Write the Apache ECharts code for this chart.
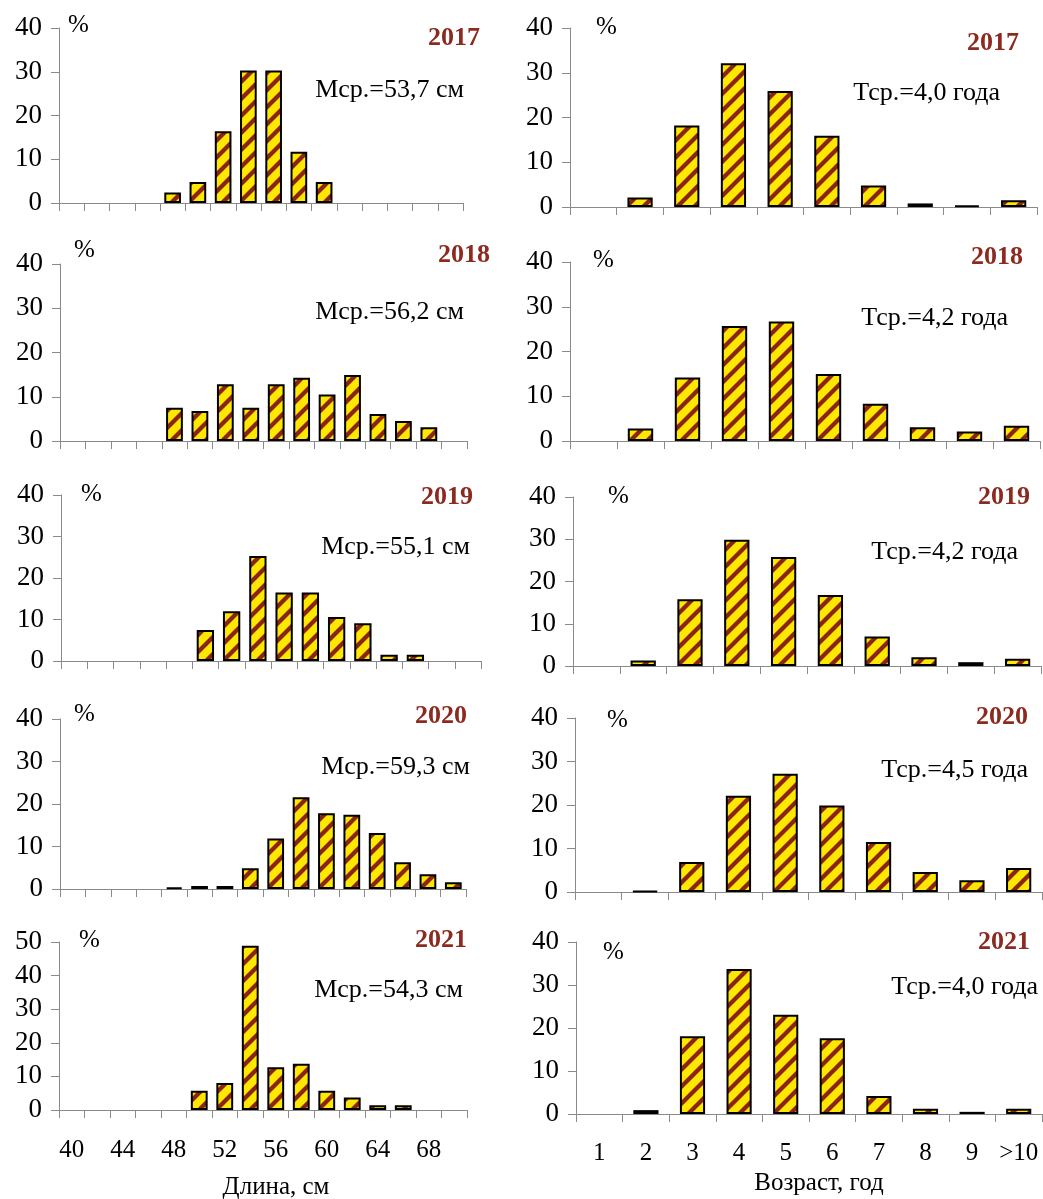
<!DOCTYPE html>
<html>
<head>
<meta charset="utf-8">
<script src="https://cdn.jsdelivr.net/npm/echarts@6/dist/echarts.min.js"></script>
<style>
  html, body { margin: 0; padding: 0; background: #fff; }
  #chart { width: 1043px; height: 1199px; }
</style>
</head>
<body>
<div id="chart"></div>
<script>
// Length classes (cm) and age groups (years)
const lengthCats = ['40','42','44','46','48','50','52','54','56','58','60','62','64','66','68','70'];
const ageCats = ['1','2','3','4','5','6','7','8','9','>10'];
const years = ['2017','2018','2019','2020','2021'];

// Length distribution, % of catch
const length2017 = [null,null,null,null,2.4,4.8,16.4,30.3,30.3,11.7,4.8,null,null,null,null,null];
const length2018 = [null,null,null,null,7.5,6.8,12.8,7.5,12.8,14.3,10.5,14.9,6.1,4.5,3.1,null];
const length2019 = [null,null,null,null,null,7.5,12.0,25.3,16.5,16.5,10.6,9.1,1.5,1.5,null,null];
const length2020 = [null,null,null,null,0.4,0.7,0.7,4.9,11.9,21.6,17.8,17.5,13.2,6.3,3.5,1.6];
const length2021 = [null,null,null,null,null,5.7,8.0,48.9,12.7,13.8,5.7,3.7,1.4,1.4,null,null];

// Age distribution, % of catch
const age2017 = [null,2.1,18.2,32.1,25.9,15.9,4.8,0.8,0.3,1.5];
const age2018 = [null,2.8,14.2,25.7,26.7,15.0,8.3,3.1,2.1,3.4];
const age2019 = [null,1.3,15.8,29.9,25.8,16.8,7.0,2.1,0.9,1.7];
const age2020 = [null,0.2,6.9,22.1,27.2,19.9,11.5,4.6,2.7,5.5];
const age2021 = [null,0.9,18.1,33.7,23.1,17.6,4.2,1.2,0.5,1.2];

// Mean values per year
const meanLength = ['Мср.=53,7 см','Мср.=56,2 см','Мср.=55,1 см','Мср.=59,3 см','Мср.=54,3 см'];
const meanAge = ['Тср.=4,0 года','Тср.=4,2 года','Тср.=4,2 года','Тср.=4,5 года','Тср.=4,0 года'];

// Y-axis maxima per panel
const lengthMax = [40,40,40,40,50];
const ageMax = [40,40,40,40,40];

const lengthSeries = [length2017, length2018, length2019, length2020, length2021];
const ageSeries = [age2017, age2018, age2019, age2020, age2021];

// Panel geometry: [left, right, top, bottom] in px
const leftBoxes = [[59,463,28,203],[60,467,264,441],[61,481,495,661],[60,466,719,889],[59,467,942,1110]];
const rightBoxes = [[570,1037,28,207],[570,1040,262,441],[573,1041,497,666],[575,1042,718,892],[576,1042,942,1114]];

// Annotation anchors: percent sign (left/middle), year (right/middle), mean (right/middle)
const leftNotes = [
  {pct:[68,25], year:[480,38], mean:[464,90]},
  {pct:[74,250], year:[490,255], mean:[464,312]},
  {pct:[81,494], year:[473,497], mean:[470,547]},
  {pct:[74,714], year:[467,716], mean:[470,767]},
  {pct:[79,940], year:[467,940], mean:[463,990]}
];
const rightNotes = [
  {pct:[596,27], year:[1019,43], mean:[1000,93]},
  {pct:[593,260], year:[1023,257], mean:[1008,318]},
  {pct:[608,496], year:[1030,497], mean:[1018,552]},
  {pct:[607,720], year:[1028,717], mean:[1028,770]},
  {pct:[603,952], year:[1030,942], mean:[1038,987]}
];

const FONT = '"Liberation Serif", "Times New Roman", serif';
const AXIS_COLOR = '#8a8a8a';
const YEAR_COLOR = '#8c2a20';

// Hatched fill: yellow with dark red "/" stripes
function makeHatch() {
  const s = 17;
  const c = document.createElement('canvas');
  c.width = s; c.height = s;
  const g = c.getContext('2d');
  g.fillStyle = '#ffe800';
  g.fillRect(0, 0, s, s);
  g.strokeStyle = '#8c2416';
  g.lineWidth = 4.3;
  g.lineCap = 'square';
  g.beginPath();
  g.moveTo(-2, s + 2); g.lineTo(s + 2, -2);
  g.moveTo(-s / 2 - 2, s / 2 + 2); g.lineTo(s / 2 + 2, -s / 2 - 2);
  g.moveTo(s / 2 - 2, 1.5 * s + 2); g.lineTo(1.5 * s + 2, s / 2 - 2);
  g.stroke();
  return c;
}
const hatch = { image: makeHatch(), repeat: 'repeat' };

const grids = [], xAxes = [], yAxes = [], series = [], graphics = [];

function addPanel(box, cats, data, max, showLabels, labelInterval, barWidth, labelMargin) {
  const idx = grids.length;
  grids.push({ left: box[0], top: box[2], width: box[1] - box[0], height: box[3] - box[2], containLabel: false });
  xAxes.push({
    type: 'category', gridIndex: idx, data: cats, boundaryGap: true,
    axisLine: { show: true, lineStyle: { color: AXIS_COLOR, width: 1 } },
    axisTick: { show: true, interval: 0, alignWithLabel: false, length: 8, lineStyle: { color: AXIS_COLOR } },
    axisLabel: { show: showLabels, interval: labelInterval, margin: labelMargin, color: '#000', fontFamily: FONT, fontSize: 25 },
    splitLine: { show: false }
  });
  yAxes.push({
    type: 'value', gridIndex: idx, min: 0, max: max, interval: 10,
    axisLine: { show: true, lineStyle: { color: AXIS_COLOR, width: 1 } },
    axisTick: { show: true, length: 8, lineStyle: { color: AXIS_COLOR } },
    axisLabel: { show: true, margin: 17, color: '#000', fontFamily: FONT, fontSize: 27 },
    splitLine: { show: false }
  });
  series.push({
    type: 'bar', xAxisIndex: idx, yAxisIndex: idx, data: data, barWidth: barWidth,
    itemStyle: { color: hatch, borderColor: '#000', borderWidth: 2 },
    silent: true, animation: false
  });
}

function addText(x, y, text, opts) {
  graphics.push({
    type: 'text', x: x, y: y, silent: true,
    style: Object.assign({ text: text, fill: '#000', font: '26px ' + FONT, align: 'left', verticalAlign: 'middle' }, opts || {})
  });
}

for (let i = 0; i < 5; i++) {
  const last = i === 4;
  addPanel(leftBoxes[i], lengthCats, lengthSeries[i], lengthMax[i], last, 1, '66%', 28);
  addPanel(rightBoxes[i], ageCats, ageSeries[i], ageMax[i], last, 0, '54%', 27);

  const ln = leftNotes[i], rn = rightNotes[i];
  addText(ln.pct[0], ln.pct[1], '%', { font: '25px ' + FONT });
  addText(ln.year[0], ln.year[1], years[i], { font: 'bold 26px ' + FONT, fill: YEAR_COLOR, align: 'right' });
  addText(ln.mean[0], ln.mean[1], meanLength[i], { align: 'right' });

  addText(rn.pct[0], rn.pct[1], '%', { font: '25px ' + FONT });
  addText(rn.year[0], rn.year[1], years[i], { font: 'bold 26px ' + FONT, fill: YEAR_COLOR, align: 'right' });
  addText(rn.mean[0], rn.mean[1], meanAge[i], { align: 'right' });
}

// Axis titles under the bottom row
addText(276, 1187, 'Длина, см', { align: 'center', font: '25px ' + FONT });
addText(819, 1183, 'Возраст, год', { align: 'center', font: '25px ' + FONT });

const chart = echarts.init(document.getElementById('chart'), null, { renderer: 'canvas' });
chart.setOption({
  animation: false,
  backgroundColor: '#fff',
  grid: grids,
  xAxis: xAxes,
  yAxis: yAxes,
  series: series,
  graphic: graphics
});
</script>
</body>
</html>
